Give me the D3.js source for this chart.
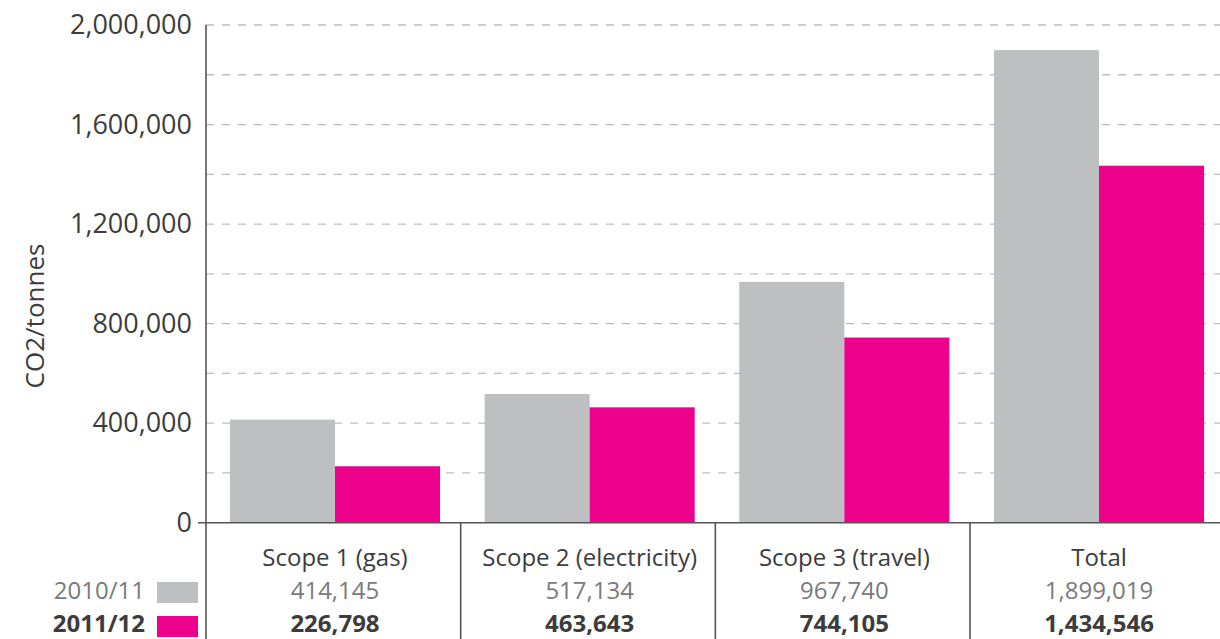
<!DOCTYPE html>
<html>
<head>
<meta charset="utf-8">
<script src="https://cdn.jsdelivr.net/npm/d3@7"></script>
<style>
  html, body { margin: 0; padding: 0; background: white; }
  svg { display: block; font-family: "Open Sans", sans-serif; }
</style>
</head>
<body>
<script>
const categories = ["Scope 1 (gas)", "Scope 2 (electricity)", "Scope 3 (travel)", "Total"]
const years = ["2010/11", "2011/12"]
const values2010 = [414145, 517134, 967740, 1899019]
const values2012 = [226798, 463643, 744105, 1434546]
const yTicks = [0, 400000, 800000, 1200000, 1600000, 2000000]
const gridTicks = d3.range(0, 2000001, 200000)

const [width, height] = [1220, 639]
const colors = {
    "grey": "#bebfc1",
    "pink": "#ec008c",
    "axis": "#555555",
    "grid": "#bdbdbd",
    "text": "#3c3c3c",
    "faint": "#7a7a7a"
}
const plotLeft = 206, plotRight = 1228, plotTop = 25, zero = 522.7
const rowY = [566, 599, 632]

const x = d3.scaleBand()
    .domain(categories)
    .range([plotLeft, plotRight])
    .paddingInner(0.175)
    .paddingOuter(0.094)
const xs = d3.scaleBand()
    .domain(years)
    .range([0, x.bandwidth()])
const y = d3.scaleLinear()
    .domain([0, 2000000])
    .range([zero, plotTop])
const fmt = d3.format(",")

const svg = d3.select("body")
    .append("svg")
        .attr("width", width)
        .attr("height", height)

// grid
svg.append("g")
    .selectAll("line")
    .data(gridTicks.filter(d => d > 0))
    .join("line")
        .attr("x1", plotLeft)
        .attr("x2", width)
        .attr("y1", d => y(d))
        .attr("y2", d => y(d))
        .attr("stroke", colors.grid)
        .attr("stroke-width", 1.3)
        .attr("stroke-dasharray", "8,8")

// bars
const group = svg.append("g")
    .selectAll("g")
    .data(categories.map((c, i) => ({ c, vals: [values2010[i], values2012[i]] })))
    .join("g")
        .attr("transform", d => `translate(${x(d.c)},0)`)

group.selectAll("rect")
    .data(d => d.vals.map((v, j) => ({ year: years[j], v })))
    .join("rect")
        .attr("x", d => xs(d.year))
        .attr("width", xs.bandwidth())
        .attr("y", d => y(d.v))
        .attr("height", d => y(0) - y(d.v))
        .attr("fill", (d, j) => j == 0 ? colors.grey : colors.pink)

// y axis
const yAxis = svg.append("g")
    .attr("transform", `translate(${plotLeft},0)`)
    .call(d3.axisLeft(y).tickValues(yTicks).tickFormat(fmt).tickSize(0).tickPadding(14))
yAxis.select(".domain").remove()
yAxis.selectAll("text")
    .attr("font-size", 27)
    .attr("fill", colors.text)
    .attr("font-family", "Open Sans")

svg.append("line")
    .attr("x1", plotLeft).attr("x2", plotLeft)
    .attr("y1", plotTop).attr("y2", height)
    .attr("stroke", colors.axis)
    .attr("stroke-width", 1.6)
svg.append("line")
    .attr("x1", plotLeft - 8).attr("x2", width)
    .attr("y1", zero).attr("y2", zero)
    .attr("stroke", colors.axis)
    .attr("stroke-width", 1.6)

// dividers under the axis
const step = x.step()
svg.append("g")
    .selectAll("line")
    .data([1, 2, 3])
    .join("line")
        .attr("x1", i => plotLeft + i * step)
        .attr("x2", i => plotLeft + i * step)
        .attr("y1", zero)
        .attr("y2", height)
        .attr("stroke", colors.axis)
        .attr("stroke-width", 1.6)

svg.append("text")
    .attr("transform", `translate(44,316) rotate(-90)`)
    .attr("text-anchor", "middle")
    .attr("font-size", 26)
    .attr("fill", colors.text)
    .text("CO2/tonnes")

// table
const cx = c => x(c) + x.bandwidth() / 2
const table = svg.append("g").attr("text-anchor", "middle")
table.selectAll(".cat")
    .data(categories)
    .join("text")
        .attr("x", cx)
        .attr("y", rowY[0])
        .attr("font-size", 24)
        .attr("fill", colors.text)
        .text(d => d)
table.selectAll(".v1")
    .data(categories)
    .join("text")
        .attr("x", cx)
        .attr("y", rowY[1])
        .attr("font-size", 24)
        .attr("fill", colors.faint)
        .text((d, i) => fmt(values2010[i]))
table.selectAll(".v2")
    .data(categories)
    .join("text")
        .attr("x", cx)
        .attr("y", rowY[2])
        .attr("font-size", 24)
        .attr("font-weight", "bold")
        .attr("fill", colors.text)
        .text((d, i) => fmt(values2012[i]))

// legend
const legend = svg.append("g")
    .selectAll("g")
    .data(years)
    .join("g")
legend.append("rect")
    .attr("x", 157)
    .attr("y", (d, i) => i == 0 ? 582 : 616)
    .attr("width", 41)
    .attr("height", 21)
    .attr("fill", (d, i) => i == 0 ? colors.grey : colors.pink)
legend.append("text")
    .attr("x", 145)
    .attr("y", (d, i) => rowY[i + 1])
    .attr("text-anchor", "end")
    .attr("font-size", 24)
    .attr("font-weight", (d, i) => i == 0 ? "normal" : "bold")
    .attr("fill", (d, i) => i == 0 ? colors.faint : colors.text)
    .text(d => d)
</script>
</body>
</html>
